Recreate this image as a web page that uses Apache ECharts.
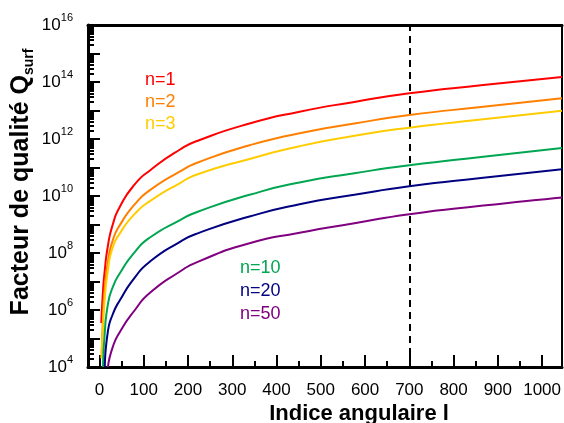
<!DOCTYPE html>
<html>
<head>
<meta charset="utf-8">
<script src="https://cdn.jsdelivr.net/npm/echarts@6/dist/echarts.min.js"></script>
<style>html,body{margin:0;padding:0;background:#fff}#c{width:564px;height:423px}</style>
</head>
<body>
<div id="c"></div>
<script>
// ---- data (angular index l, quality factor Q_surf) ----
const xN1  = [4, 8, 11, 19, 30, 46, 80, 114, 181, 222, 339, 452, 576, 700, 867, 1045];
const qN1  = [3.5e5, 5.0e6, 1.8e7, 1.8e8, 1.0e9, 4.2e9, 2.6e10, 7.9e10, 4.2e11, 8.7e11, 3.5e12, 9.1e12, 2.0e13, 4.0e13, 7.8e13, 1.5e14];
const xN2  = [5, 8, 11, 19, 30, 46, 80, 114, 181, 222, 339, 452, 576, 700, 867, 1045];
const qN2  = [3.1e4, 6.3e5, 4.0e6, 5.0e7, 2.8e8, 9.5e8, 5.2e9, 1.6e10, 7.1e10, 1.5e11, 6.0e11, 1.6e12, 3.5e12, 6.9e12, 1.35e13, 2.7e13];
const xN3  = [4, 8, 11, 19, 30, 46, 80, 114, 181, 222, 339, 452, 576, 700, 867, 1045];
const qN3  = [2.0e4, 2.5e5, 1.6e6, 2.5e7, 1.6e8, 4.9e8, 2.4e9, 6.6e9, 2.8e10, 5.8e10, 2.0e11, 5.6e11, 1.3e12, 2.5e12, 4.9e12, 9.8e12];
const xN10 = [8, 11, 19, 30, 46, 80, 114, 181, 222, 339, 452, 576, 700, 867, 1045];
const qN10 = [1.0e4, 1.0e5, 1.6e6, 6.3e6, 1.95e7, 1.1e8, 3.5e8, 1.4e9, 2.8e9, 1.1e10, 3.0e10, 6.3e10, 1.2e11, 2.4e11, 4.8e11];
const xN20 = [12, 19, 30, 46, 80, 114, 181, 222, 339, 452, 576, 700, 867, 1045];
const qN20 = [1.0e4, 1.8e5, 7.1e5, 2.2e6, 1.4e7, 5.0e7, 2.4e8, 4.9e8, 1.9e9, 5.1e9, 1.1e10, 2.2e10, 4.4e10, 8.7e10];
const xN50 = [19, 30, 46, 80, 114, 181, 222, 339, 452, 576, 700, 867, 1045];
const qN50 = [1.0e4, 5.1e4, 1.7e5, 1.0e6, 4.0e6, 2.2e7, 4.9e7, 2.2e8, 5.1e8, 1.1e9, 2.3e9, 4.6e9, 8.9e9];

const seriesNames = ['n=1', 'n=2', 'n=3', 'n=10', 'n=20', 'n=50'];
const markerL = 700;

// ---- tick values ----
const xMajorTicks = [0, 100, 200, 300, 400, 500, 600, 700, 800, 900, 1000];
const xMinorTicks = [50, 150, 250, 350, 450, 550, 650, 750, 850, 950];
const yLabelTicks = [1e4, 1e6, 1e8, 1e10, 1e12, 1e14, 1e16];
const yDecadeTicks = [1e4, 1e5, 1e6, 1e7, 1e8, 1e9, 1e10, 1e11, 1e12, 1e13, 1e14, 1e15, 1e16];
const yMinorTicks = [];
for (let d = 4; d < 16; d++) for (let k = 2; k <= 9; k++) yMinorTicks.push(k * Math.pow(10, d));

const colors = ['#ff0000', '#ff8000', '#ffcc00', '#00a651', '#000080', '#800080'];
const FONT = "'Liberation Sans', Arial, sans-serif";

const xs = [xN1, xN2, xN3, xN10, xN20, xN50];
const qs = [qN1, qN2, qN3, qN10, qN20, qN50];

const chart = echarts.init(document.getElementById('c'), null, {renderer: 'canvas'});

const series = seriesNames.map((name, i) => ({
  name: name,
  type: 'line',
  xAxisIndex: 0,
  yAxisIndex: 0,
  data: xs[i].map((x, j) => [x, qs[i][j]]),
  smooth: 0.6,
  showSymbol: false,
  symbol: 'none',
  clip: true,
  lineStyle: {color: colors[i], width: 2},
  itemStyle: {color: colors[i]},
  z: 3
}));
series[0].markLine = {
  silent: true,
  symbol: ['none', 'none'],
  label: {show: false},
  lineStyle: {color: '#000', type: [7, 5], width: 2},
  data: [{xAxis: markerL}],
  z: 2
};

const hiddenAxis = {axisLabel: {show: false}, splitLine: {show: false}};

chart.setOption({
  animation: false,
  backgroundColor: '#fff',
  grid: {left: 88, right: 1, top: 25, bottom: 56, containLabel: false},
  xAxis: [
    {
      type: 'value', min: -26, max: 1045, position: 'bottom',
      axisLine: {show: true, onZero: false, lineStyle: {color: '#000', width: 3}},
      axisTick: {show: true, inside: true, length: 12, customValues: xMajorTicks, lineStyle: {color: '#000', width: 2}},
      axisLabel: {show: true, customValues: xMajorTicks, formatter: v => String(v), color: '#000', fontSize: 17, fontFamily: FONT, margin: 15},
      splitLine: {show: false}
    },
    Object.assign({
      type: 'value', min: -26, max: 1045, position: 'bottom', offset: 0,
      axisLine: {show: false, onZero: false},
      axisTick: {show: true, inside: true, length: 6, customValues: xMinorTicks, lineStyle: {color: '#000', width: 2}}
    }, hiddenAxis),
    Object.assign({
      type: 'value', min: -26, max: 1045, position: 'top',
      axisLine: {show: true, onZero: false, lineStyle: {color: '#000', width: 3}},
      axisTick: {show: false}
    }, hiddenAxis)
  ],
  yAxis: [
    {
      type: 'log', logBase: 10, min: 1e4, max: 1e16, position: 'left',
      axisLine: {show: true, onZero: false, lineStyle: {color: '#000', width: 3}},
      axisTick: {show: true, inside: true, length: 12, customValues: yDecadeTicks, lineStyle: {color: '#000', width: 2}},
      axisLabel: {
        show: true, customValues: yLabelTicks, margin: 15,
        formatter: v => '{b|10}{s|' + Math.round(Math.log10(v)) + '}',
        rich: {
          b: {fontSize: 17, fontFamily: FONT, color: '#000', lineHeight: 26},
          s: {fontSize: 11, fontFamily: FONT, color: '#000', lineHeight: 11, verticalAlign: 'top'}
        }
      },
      splitLine: {show: false}
    },
    Object.assign({
      type: 'log', logBase: 10, min: 1e4, max: 1e16, position: 'left', offset: 0,
      axisLine: {show: false, onZero: false},
      axisTick: {show: true, inside: true, length: 6, customValues: yMinorTicks, lineStyle: {color: '#000', width: 2}}
    }, hiddenAxis),
    Object.assign({
      type: 'log', logBase: 10, min: 1e4, max: 1e16, position: 'right',
      axisLine: {show: true, onZero: false, lineStyle: {color: '#000', width: 2}},
      axisTick: {show: false}
    }, hiddenAxis)
  ],
  series: series,
  graphic: [
    {type: 'text', x: 359, y: 414, style: {text: 'Indice angulaire l', font: 'bold 22px ' + FONT, fill: '#000', align: 'center', verticalAlign: 'middle'}},
    {type: 'text', x: 21, y: 182, rotation: Math.PI / 2,
     style: {text: '{m|Facteur de qualité Q}{s|surf}', align: 'center', verticalAlign: 'middle',
       rich: {
         m: {font: 'bold 25px ' + FONT, fill: '#000', lineHeight: 30},
         s: {font: 'bold 14px ' + FONT, fill: '#000', lineHeight: 14, verticalAlign: 'bottom'}
       }}},
    {type: 'text', x: 145, y: 80, style: {text: seriesNames[0], font: '18px ' + FONT, fill: colors[0], verticalAlign: 'middle'}},
    {type: 'text', x: 145, y: 102, style: {text: seriesNames[1], font: '18px ' + FONT, fill: colors[1], verticalAlign: 'middle'}},
    {type: 'text', x: 145, y: 124, style: {text: seriesNames[2], font: '18px ' + FONT, fill: colors[2], verticalAlign: 'middle'}},
    {type: 'text', x: 240, y: 268, style: {text: seriesNames[3], font: '18px ' + FONT, fill: colors[3], verticalAlign: 'middle'}},
    {type: 'text', x: 240, y: 291, style: {text: seriesNames[4], font: '18px ' + FONT, fill: colors[4], verticalAlign: 'middle'}},
    {type: 'text', x: 240, y: 314, style: {text: seriesNames[5], font: '18px ' + FONT, fill: colors[5], verticalAlign: 'middle'}}
  ]
});
</script>
</body>
</html>
